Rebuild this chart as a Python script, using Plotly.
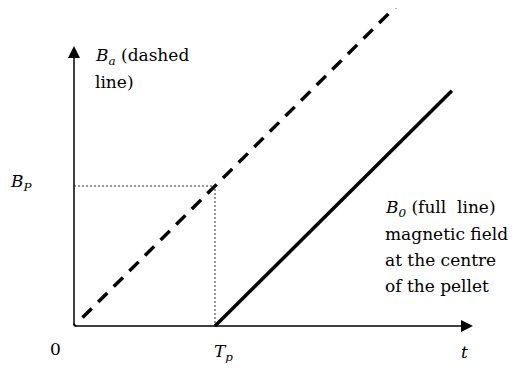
import plotly.graph_objects as go

# ---- data (in units of T_p and B_P) ----
t_dashed = [0.0, 2.3]      # applied field B_a
Ba_values = [0.0, 2.3]
t_solid = [1.0, 2.68]      # field at centre of pellet B_0
B0_values = [0.0, 1.68]
Tp = 1.0
Bp = 1.0
t_axis_end = 2.83
B_axis_end = 2.0

W, H = 520, 374
OFF = 8  # page body margin
X0, Y0, SX, SY = 74.0 - OFF, 326.0 - OFF, 141.0, 140.0
def tx(px):
    return (px - OFF - X0) / SX
def by(py):
    return (Y0 - (py - OFF)) / SY

FONT = "DejaVu Serif"
FS = 17

fig = go.Figure()

# dotted guides
fig.add_trace(go.Scatter(x=[0, Tp, Tp], y=[Bp, Bp, 0], mode="lines",
                         line=dict(color="#333333", width=1, dash="2px,2px"),
                         hoverinfo="skip", showlegend=False))
# dashed applied field
dash_pat = "2px,10px," + ",".join(["13px,9px"] * 24)
fig.add_trace(go.Scatter(x=t_dashed, y=Ba_values, mode="lines",
                         line=dict(color="black", width=3.5, dash=dash_pat),
                         hoverinfo="skip", showlegend=False))
# solid centre field
fig.add_trace(go.Scatter(x=t_solid, y=B0_values, mode="lines",
                         line=dict(color="black", width=3.5),
                         hoverinfo="skip", showlegend=False))

ann = []
# axes with arrows
ann.append(dict(x=t_axis_end, y=0, ax=0, ay=0, xref="x", yref="y", axref="x", ayref="y",
                showarrow=True, arrowhead=2, arrowsize=1.6, arrowwidth=1.5,
                arrowcolor="black", text=""))
ann.append(dict(x=0, y=B_axis_end, ax=0, ay=0, xref="x", yref="y", axref="x", ayref="y",
                showarrow=True, arrowhead=2, arrowsize=1.6, arrowwidth=1.5,
                arrowcolor="black", text=""))

def label(text, px, py, xanchor="left"):
    ann.append(dict(x=tx(px), y=by(py), xref="x", yref="y", text=text, showarrow=False,
                    xanchor=xanchor, yanchor="middle",
                    font=dict(family=FONT, size=FS, color="black")))

label("<i>B<sub>a</sub></i> (dashed", 93, 56)
label("line)", 93, 82)
label("<i>B<sub>P</sub></i>", 8, 182)
label("0", 55, 349, xanchor="center")
label("<i>T<sub>p</sub></i>", 212, 352)
label("<i>t</i>", 459, 352)
label("<i>B<sub>0</sub></i> (full\u00a0 line)", 383, 208)
label("magnetic field", 383, 234)
label("at the centre", 383, 260)
label("of the pellet", 383, 286)

fig.update_layout(
    width=W, height=H, margin=dict(l=0, r=0, t=0, b=0),
    paper_bgcolor="white", plot_bgcolor="white",
    xaxis=dict(range=[tx(OFF), tx(W + OFF)], visible=False, fixedrange=True),
    yaxis=dict(range=[by(H + OFF), by(OFF)], visible=False, fixedrange=True),
    annotations=ann, showlegend=False,
)

fig.write_html("out.html")
